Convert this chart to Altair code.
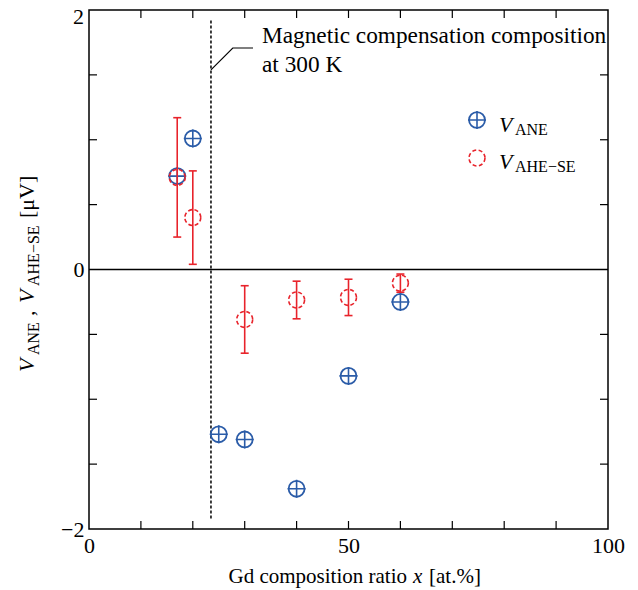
import altair as alt
import pandas as pd

# ---- data ----
x_ane = [17, 20, 25, 30, 40, 50, 60]
v_ane = [0.72, 1.01, -1.27, -1.31, -1.69, -0.82, -0.25]
x_ahe = [17, 20, 30, 40, 50, 60]
v_ahe = [0.71, 0.40, -0.385, -0.235, -0.215, -0.105]
e_ahe = [0.46, 0.36, 0.26, 0.145, 0.14, 0.07]
x_comp = 23.5
comp_y = [-1.92, 1.92]
leader_x = [23.5, 27.7, 31.6]
leader_y = [1.538, 1.707, 1.707]
x_labels = [0, 50, 100]
y_labels = [-2, 0]
y_top_label = "2"
x_minor = [10, 20, 30, 40, 50, 60, 70, 80, 90]
y_minor = [-1.5, -1.0, -0.5, 0.5, 1.0, 1.5]

W = H = 519
FONT = "Liberation Serif"
BLUE = "#2b5ca8"
RED = "#e8232b"

ane = pd.DataFrame({"x": x_ane, "v": v_ane})
ahe = pd.DataFrame({
    "x": x_ahe, "v": v_ahe,
    "lo": [v - e for v, e in zip(v_ahe, e_ahe)],
    "hi": [v + e for v, e in zip(v_ahe, e_ahe)],
})

xs = alt.Scale(domain=[0, 100], nice=False, zero=False)
ys = alt.Scale(domain=[-2, 2], nice=False, zero=False)

x_axis = alt.Axis(values=x_labels, ticks=False, domain=False, grid=False,
                  labelFont=FONT, labelFontSize=22, labelColor="black",
                  labelPadding=6, labelFlush=False, title=None, format="d")
y_axis = alt.Axis(values=y_labels, ticks=False, domain=False, grid=False,
                  labelFont=FONT, labelFontSize=22, labelColor="black",
                  labelPadding=5, labelFlush=False, title=None,
                  labelExpr="datum.value < 0 ? '\u2212' + format(-datum.value, 'd') : format(datum.value, 'd')")


def X(f):
    return alt.X(f, type="quantitative", scale=xs, axis=x_axis)


def Y(f):
    return alt.Y(f, type="quantitative", scale=ys, axis=y_axis)


one = pd.DataFrame({"k": [0]})

# inward ticks on all four sides
xt = pd.DataFrame({"x": x_minor})
yt = pd.DataFrame({"y": y_minor})
tick_b = alt.Chart(xt).mark_rule(color="black", strokeWidth=1.2).encode(
    x=X("x"), y=alt.value(H), y2=alt.value(H - 8))
tick_t = alt.Chart(xt).mark_rule(color="black", strokeWidth=1.2).encode(
    x=X("x"), y=alt.value(0), y2=alt.value(8))
tick_l = alt.Chart(yt).mark_rule(color="black", strokeWidth=1.2).encode(
    y=Y("y"), x=alt.value(0), x2=alt.value(8))
tick_r = alt.Chart(yt).mark_rule(color="black", strokeWidth=1.2).encode(
    y=Y("y"), x=alt.value(W), x2=alt.value(W - 8))

zero = alt.Chart(pd.DataFrame({"y": [0]})).mark_rule(color="black", strokeWidth=1.5).encode(
    y=Y("y"))

comp = alt.Chart(pd.DataFrame({"x": [x_comp], "y": [comp_y[0]], "y2": [comp_y[1]]})).mark_rule(
    color="black", strokeWidth=1.5, strokeDash=[3, 2]).encode(
    x=X("x"), y=Y("y"), y2="y2")

leader = alt.Chart(pd.DataFrame({"x": leader_x, "y": leader_y, "o": [0, 1, 2]})).mark_line(
    color="black", strokeWidth=1.2).encode(x=X("x"), y=Y("y"), order="o")

ann1 = alt.Chart(one).mark_text(align="left", baseline="alphabetic", font=FONT, fontSize=23.3,
                                color="black").encode(
    x=alt.value(173), y=alt.value(33), text=alt.value("Magnetic compensation composition"))
ann2 = alt.Chart(one).mark_text(align="left", baseline="alphabetic", font=FONT, fontSize=23.3,
                                color="black").encode(
    x=alt.value(173), y=alt.value(62), text=alt.value("at 300 K"))

CROSS = "M-1,0L1,0M0,-1L0,1"

ane_circ = alt.Chart(ane).mark_point(shape="circle", size=254, filled=False, stroke=BLUE,
                                     strokeWidth=1.8, opacity=1).encode(x=X("x"), y=Y("v"))
ane_cross = alt.Chart(ane).mark_point(shape=CROSS, size=324, filled=False, stroke=BLUE,
                                      strokeWidth=1.6, opacity=1).encode(x=X("x"), y=Y("v"))

ahe_circ = alt.Chart(ahe).mark_point(shape="circle", size=254, filled=False, stroke=RED,
                                     strokeWidth=1.6, strokeDash=[4, 2.5], opacity=1).encode(
    x=X("x"), y=Y("v"))
ahe_bar = alt.Chart(ahe).mark_rule(color=RED, strokeWidth=1.6).encode(
    x=X("x"), y=Y("lo"), y2="hi")
ahe_cap_lo = alt.Chart(ahe).mark_rule(color=RED, strokeWidth=1.6, xOffset=-4, x2Offset=4).encode(
    x=X("x"), x2="x", y=Y("lo"))
ahe_cap_hi = alt.Chart(ahe).mark_rule(color=RED, strokeWidth=1.6, xOffset=-4, x2Offset=4).encode(
    x=X("x"), x2="x", y=Y("hi"))


def txt(s, x, y, size, italic=False, angle=0, align="left"):
    return alt.Chart(one).mark_text(
        align=align, baseline="alphabetic", font=FONT, fontSize=size,
        fontStyle="italic" if italic else "normal", color="black", angle=angle).encode(
        x=alt.value(x), y=alt.value(y), text=alt.value(s))


# top y label, kept inside the drawing area
top_lab = txt(y_top_label, -5, 14, 22, align="right")

# legend
leg = [
    alt.Chart(one).mark_point(shape="circle", size=254, filled=False, stroke=BLUE,
                              strokeWidth=1.8, opacity=1).encode(x=alt.value(388), y=alt.value(110)),
    alt.Chart(one).mark_point(shape=CROSS, size=324, filled=False, stroke=BLUE,
                              strokeWidth=1.6, opacity=1).encode(x=alt.value(388), y=alt.value(110)),
    alt.Chart(one).mark_point(shape="circle", size=254, filled=False, stroke=RED,
                              strokeWidth=1.6, strokeDash=[4, 2.5], opacity=1).encode(
        x=alt.value(388), y=alt.value(148)),
    txt("V", 410, 122, 22, italic=True),
    txt("ANE", 426, 125, 16),
    txt("V", 410, 159, 22, italic=True),
    txt("AHE\u2212SE", 426, 162, 16),
]

# y-axis title, rotated
ytitle = [
    txt("V", -55, 362, 22, italic=True, angle=270),
    txt("ANE", -50, 345, 16, angle=270),
    txt(",", -55, 306, 22, angle=270),
    txt("V", -55, 293, 22, italic=True, angle=270),
    txt("AHE\u2212SE", -50, 276, 16, angle=270),
    txt("[\u03bcV]", -55, 208, 22, angle=270),
]

# x-axis title
xtitle = [
    txt("Gd composition ratio", 318, 573, 21, align="right"),
    txt("x", 324, 573, 21, italic=True),
    txt("[at.%]", 340, 573, 21),
]

chart = alt.layer(
    tick_b, tick_t, tick_l, tick_r, zero, comp, leader, ann1, ann2,
    ane_circ, ane_cross, ahe_circ, ahe_bar, ahe_cap_lo, ahe_cap_hi,
    top_lab, *leg, *ytitle, *xtitle,
).properties(
    width=W, height=H,
    padding={"left": 81, "top": 2, "right": 22, "bottom": 60},
    autosize=alt.AutoSizeParams(type="none"),
).configure_view(stroke="black", strokeWidth=1.5)

chart.save("out.html", embed_options={"renderer": "svg", "actions": False})
